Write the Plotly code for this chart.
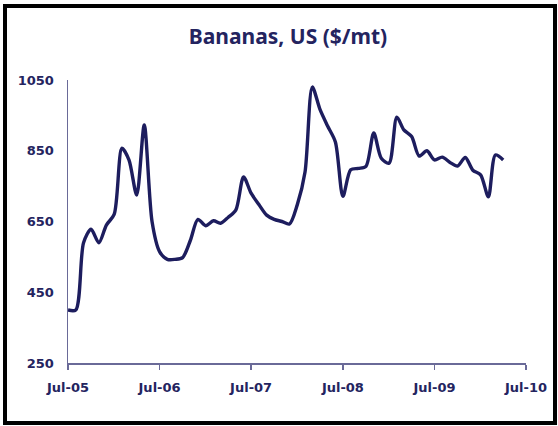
import plotly.graph_objects as go
import pandas as pd

# Monthly banana prices, US ($/mt), Jul-05 .. Apr-10
start_month = "2005-07-01"
prices = [
    400, 400, 590, 628, 590, 640, 670, 857, 824, 725, 923, 650,   # Jul-05..Jun-06
    565, 543, 543, 548, 597, 656, 638, 652, 645, 662, 682, 776,   # Jul-06..Jun-07
    730, 698, 668, 656, 650, 643, 697, 790, 1030, 966, 920, 875,  # Jul-07..Jun-08
    721, 796, 800, 806, 900, 829, 815, 945, 909, 890, 835, 850,   # Jul-08..Jun-09
    824, 832, 817, 807, 831, 795, 782, 720, 838, 824,             # Jul-09..Apr-10
]
dates = pd.date_range(start_month, periods=len(prices), freq="MS")

tick_vals = pd.to_datetime(["2005-07-01", "2006-07-01", "2007-07-01",
                            "2008-07-01", "2009-07-01", "2010-07-01"])
tick_text = ["Jul-05", "Jul-06", "Jul-07", "Jul-08", "Jul-09", "Jul-10"]
y_ticks = [250, 450, 650, 850, 1050]

navy = "#1d1d5e"
text_col = "#24245f"
axis_col = "#6a6a98"

W, H = 558, 426
L, R, T, B = 68, 32, 80, 63
pw, ph = W - L - R, H - T - B

fig = go.Figure()
fig.add_trace(go.Scatter(
    x=dates, y=prices, mode="lines",
    line=dict(color=navy, width=3.4, shape="spline", smoothing=0.8),
    hoverinfo="skip", showlegend=False,
))

fig.update_layout(
    width=W, height=H,
    margin=dict(l=L, r=R, t=T, b=B),
    paper_bgcolor="white", plot_bgcolor="white",
    title=dict(
        text="Bananas, US ($/mt)",
        x=288 / W, xref="container", xanchor="center",
        y=1 - 37 / H, yref="container", yanchor="middle",
        font=dict(family="Noto Sans", size=21, color=text_col, weight="bold"),
    ),
    xaxis=dict(
        type="date",
        range=[tick_vals[0], tick_vals[-1]],
        tickvals=tick_vals, ticktext=tick_text,
        showgrid=False, zeroline=False,
        showline=True, linecolor=axis_col, linewidth=1.5,
        ticks="outside", ticklen=5, tickwidth=1.5, tickcolor=axis_col,
        tickfont=dict(family="DejaVu Sans", size=13, color=text_col, weight="bold"),
        ticklabelstandoff=7,
    ),
    yaxis=dict(
        range=[250, 1050], tickvals=y_ticks,
        showgrid=False, zeroline=False,
        showline=True, linecolor=axis_col, linewidth=1.5,
        ticks="",
        tickfont=dict(family="DejaVu Sans", size=13, color=text_col, weight="bold"),
        ticklabelstandoff=10,
    ),
    shapes=[dict(
        type="rect", xref="paper", yref="paper",
        x0=(5 - L) / pw, x1=(555 - L) / pw,
        y0=(H - B - 423) / ph, y1=(H - B - 6) / ph,
        line=dict(color="black", width=4), fillcolor="rgba(0,0,0,0)",
        layer="above",
    )],
)

fig.write_html(
    "out.html",
    config={"displayModeBar": False, "staticPlot": True},
    post_script="document.body.style.margin='0';document.body.style.padding='0';",
)
